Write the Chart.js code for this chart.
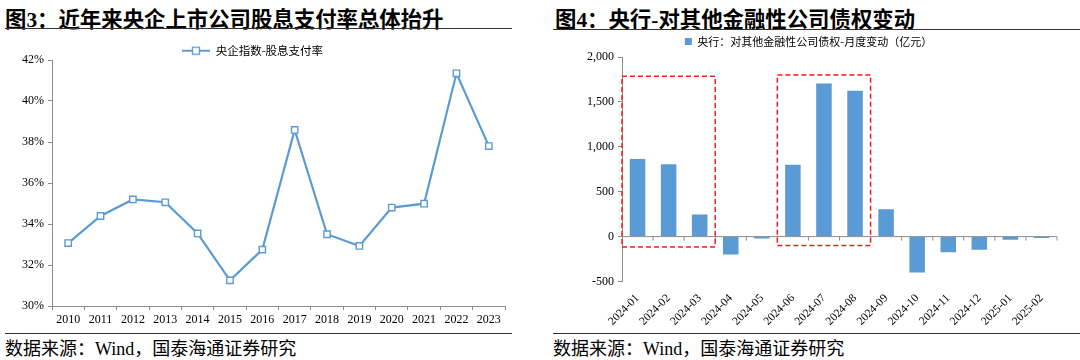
<!DOCTYPE html>
<html>
<head>
<meta charset="utf-8">
<script src="https://cdn.jsdelivr.net/npm/chart.js@4.4.1/dist/chart.umd.min.js"></script>
<style>
  body { margin: 0; width: 1080px; height: 360px; background: #fff; position: relative; overflow: hidden;
         font-family: "Liberation Serif", "Noto Sans CJK SC", serif; color: #000; }
  .title { position: absolute; top: 2px; font-size: 21.4px; font-weight: bold; white-space: nowrap; }
  .rule { position: absolute; height: 0; border-top: 1.5px solid #333; }
  .src { position: absolute; top: 334px; font-size: 18px; white-space: nowrap; }
  .box { position: absolute; }
</style>
</head>
<body>
<div class="title" style="left:5px">图3：近年来央企上市公司股息支付率总体抬升</div>
<div class="rule" style="left:5px;width:507px;top:28px"></div>
<div class="box" style="left:0;top:43px;width:520px;height:285px"><canvas id="left"></canvas></div>
<div class="rule" style="left:5px;width:507px;top:333px"></div>
<div class="src" style="left:5px">数据来源：Wind，国泰海通证券研究</div>

<div class="title" style="left:555px">图4：央行-对其他金融性公司债权变动</div>
<div class="rule" style="left:553px;width:527px;top:29px"></div>
<div class="box" style="left:560px;top:25.5px;width:510px;height:300.5px"><canvas id="right"></canvas></div>
<div class="rule" style="left:553px;width:527px;top:333px"></div>
<div class="src" style="left:553px">数据来源：Wind，国泰海通证券研究</div>

<script>
// 图3 数据
const years = ['2010', '2011', '2012', '2013', '2014', '2015', '2016', '2017', '2018', '2019', '2020', '2021', '2022', '2023'];
const payoutRatio = [33.07, 34.39, 35.2, 35.06, 33.54, 31.25, 32.75, 38.59, 33.5, 32.93, 34.8, 34.99, 41.35, 37.8];
const pctMin = 30, pctMax = 42, pctStep = 2;

// 图4 数据
const months = ['2024-01', '2024-02', '2024-03', '2024-04', '2024-05', '2024-06', '2024-07',
                '2024-08', '2024-09', '2024-10', '2024-11', '2024-12', '2025-01', '2025-02'];
const claimChange = [865, 805, 245, -200, -20, 800, 1705, 1625, 305, -400, -175, -147, -35, -15];
const amtMin = -500, amtMax = 2000, amtStep = 500;
// 红框: [起始月序号, 结束月序号, 下沿, 上沿]
const highlightSpans = [[0, 2, -115, 1785], [5, 7, -100, 1800]];

const blue = '#5B9BD5';
const axisGray = '#8c8c8c';
const tickFont = { family: 'Liberation Serif', size: 12 };

// legend mark: line with hollow square
const legendMark = document.createElement('canvas');
legendMark.width = 28; legendMark.height = 10;
(function () {
    const c = legendMark.getContext('2d');
    c.strokeStyle = blue; c.lineWidth = 2;
    c.beginPath(); c.moveTo(0, 5); c.lineTo(28, 5); c.stroke();
    c.fillStyle = '#fff'; c.fillRect(10.5, 1.5, 7, 7);
    c.lineWidth = 1.3; c.strokeRect(10.5, 1.5, 7, 7);
})();

new Chart(document.getElementById('left'), {
    type: 'line',
    data: {
        labels: years,
        datasets: [{
            label: '央企指数-股息支付率',
            data: payoutRatio,
            borderColor: blue,
            borderWidth: 2.2,
            pointStyle: 'rect',
            pointRadius: 4.5,
            pointBackgroundColor: '#fff',
            pointBorderColor: blue,
            pointBorderWidth: 1.4,
            tension: 0
        }]
    },
    options: {
        responsive: true,
        maintainAspectRatio: false,
        animation: false,
        layout: { padding: { right: 15 } },
        plugins: {
            tooltip: { enabled: false },
            legend: {
                maxHeight: 17,
                labels: {
                    usePointStyle: true,
                    pointStyleWidth: 28,
                    padding: 2,
                    color: '#000',
                    font: { family: 'Noto Sans CJK SC', size: 11.5 },
                    generateLabels: function (chart) {
                        return Chart.defaults.plugins.legend.labels.generateLabels(chart)
                            .map(function (l) { l.pointStyle = legendMark; return l; });
                    }
                }
            }
        },
        scales: {
            x: {
                offset: true,
                grid: { offset: true, drawOnChartArea: false, tickLength: 4, color: axisGray },
                border: { color: axisGray },
                ticks: { color: '#000', font: tickFont, maxRotation: 0, padding: 3 },
                afterFit: function (s) { s.height = 22; }
            },
            y: {
                min: pctMin, max: pctMax,
                grid: { drawOnChartArea: false, tickLength: 4, color: axisGray },
                border: { color: axisGray },
                ticks: { stepSize: pctStep, color: '#000', font: tickFont, padding: 4,
                         callback: function (v) { return v + '%'; } },
                afterFit: function (s) { s.width = 52; }
            }
        }
    }
});

const zeroAxis = {
    id: 'zeroAxis',
    afterDatasetsDraw: function (chart) {
        const ctx = chart.ctx, area = chart.chartArea;
        const x = chart.scales.x, y = chart.scales.y;
        const y0 = y.getPixelForValue(0);
        const step = x.getPixelForValue(1) - x.getPixelForValue(0);
        const edge = function (i) { return x.getPixelForValue(0) - step / 2 + i * step; };
        ctx.save();
        ctx.strokeStyle = axisGray;
        ctx.lineWidth = 1;
        ctx.beginPath();
        ctx.moveTo(area.left, y0);
        ctx.lineTo(area.right, y0);
        for (let i = 1; i <= months.length; i++) {
            ctx.moveTo(edge(i), y0);
            ctx.lineTo(edge(i), y0 + 4);
        }
        ctx.stroke();

        ctx.strokeStyle = '#ff1a1a';
        ctx.lineWidth = 1.5;
        ctx.setLineDash([5, 3]);
        highlightSpans.forEach(function (s) {
            const l = edge(s[0]), r = edge(s[1] + 1);
            const t = y.getPixelForValue(s[3]), b = y.getPixelForValue(s[2]);
            ctx.strokeRect(l, t, r - l, b - t);
        });
        ctx.restore();
    }
};

new Chart(document.getElementById('right'), {
    type: 'bar',
    data: {
        labels: months,
        datasets: [{
            label: '央行：对其他金融性公司债权-月度变动（亿元）',
            data: claimChange,
            backgroundColor: blue,
            borderWidth: 0,
            barPercentage: 0.5,
            categoryPercentage: 1
        }]
    },
    options: {
        responsive: true,
        maintainAspectRatio: false,
        animation: false,
        layout: { padding: { right: 13 } },
        plugins: {
            tooltip: { enabled: false },
            legend: {
                labels: {
                    boxWidth: 7,
                    boxHeight: 7,
                    padding: 10,
                    color: '#000',
                    font: { family: 'Noto Sans CJK SC', size: 11 }
                }
            }
        },
        scales: {
            x: {
                grid: { display: false },
                border: { display: false },
                ticks: { color: '#000', font: { family: 'Liberation Serif', size: 11.5 },
                         minRotation: 45, maxRotation: 45, padding: 2 },
                afterFit: function (s) { s.height = 45; }
            },
            y: {
                min: amtMin, max: amtMax,
                grid: { drawOnChartArea: false, tickLength: 4, color: axisGray },
                border: { color: axisGray },
                ticks: { stepSize: amtStep, color: '#000', font: tickFont, padding: 4,
                         callback: function (v) { return v.toLocaleString('en-US'); } },
                afterFit: function (s) { s.width = 62; }
            }
        }
    },
    plugins: [zeroAxis]
});
</script>
</body>
</html>
